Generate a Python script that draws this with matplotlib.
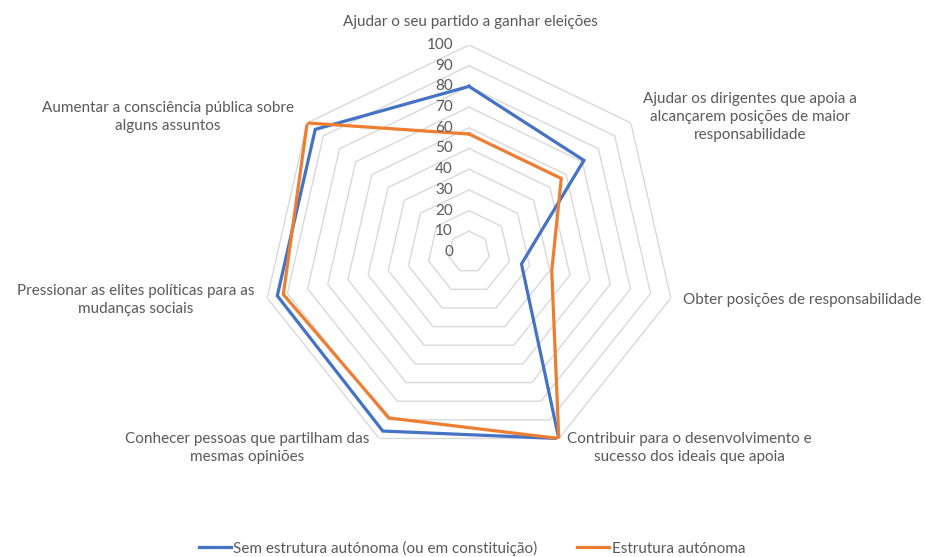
import numpy as np
import matplotlib
matplotlib.use("Agg")
import matplotlib.pyplot as plt
from matplotlib.lines import Line2D
import matplotlib.transforms as mtransforms

categories = [
    "Ajudar o seu partido a ganhar eleições",
    "Ajudar os dirigentes que apoia a\nalcançarem posições de maior\nresponsabilidade",
    "Obter posições de responsabilidade",
    "Contribuir para o desenvolvimento e\nsucesso dos ideais que apoia",
    "Conhecer pessoas que partilham das\nmesmas opiniões",
    "Pressionar as elites políticas para as\nmudanças sociais",
    "Aumentar a consciência pública sobre\nalguns assuntos",
]
series_names = ["Sem estrutura autónoma (ou em constituição)", "Estrutura autónoma"]
sem_estrutura = [80, 71, 26, 100, 96, 95, 95]
estrutura = [57, 57, 41, 100, 89, 92, 100]
radial_ticks = [0, 10, 20, 30, 40, 50, 60, 70, 80, 90, 100]

colors = ["#4472C4", "#ED7D31"]
text_color = "#595959"
grid_color = "#D9D9D9"

plt.rcParams['font.family'] = ['Lato', 'DejaVu Sans']

W, H = 925, 557
fig = plt.figure(figsize=(W / 100, H / 100), dpi=100)
cx, cy, R = 469, 252, 207
ax = fig.add_axes([(cx - R) / W, 1 - (cy + R) / H, 2 * R / W, 2 * R / H], projection='polar')
ax.set_theta_zero_location('N')
ax.set_theta_direction(-1)
ax.set_ylim(0, 100)
ax.grid(False)
ax.spines['polar'].set_visible(False)
ax.set_xticks([])
ax.set_yticks([])
ax.patch.set_alpha(0)

n = len(categories)
angles = np.arange(n) * 2 * np.pi / n
closed = np.append(angles, angles[0])

for r in radial_ticks[1:]:
    ax.plot(closed, [r] * (n + 1), color=grid_color, lw=1.0, zorder=1)

for vals, c in zip([sem_estrutura, estrutura], colors):
    ax.plot(closed, list(vals) + [vals[0]], color=c, lw=2.3, zorder=3,
            solid_joinstyle='miter')

offset = mtransforms.offset_copy(ax.transData, fig=fig, x=-16, y=0, units='dots')
for r in radial_ticks:
    ax.text(0, r, str(r), transform=offset, ha='right', va='center',
            fontsize=11, color=text_color, zorder=4)

label_pos = [
    (470, 22),
    (750, 117),
    (802, 300),
    (689, 448),
    (247, 448),
    (136, 300),
    (168, 117),
]
for lab, (x, y) in zip(categories, label_pos):
    fig.text(x / W, 1 - y / H, lab, ha='center', va='center', fontsize=11,
             color=text_color, linespacing=1.4)

handles = [Line2D([], [], color=c, lw=2.3) for c in colors]
fig.legend(handles, series_names, loc='center', bbox_to_anchor=(472 / W, 1 - 548 / H),
           ncol=2, frameon=False, fontsize=11, handlelength=2.1, handletextpad=0.15,
           columnspacing=2.6, labelcolor=text_color)

fig.savefig("out.png", dpi=100)
